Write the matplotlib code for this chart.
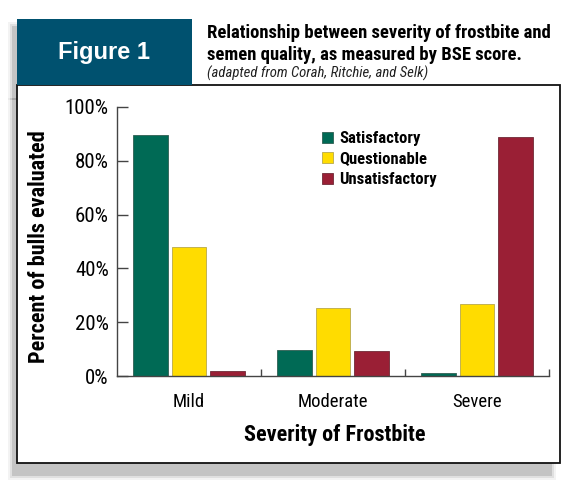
import numpy as np
import matplotlib
matplotlib.use('Agg')
import matplotlib.pyplot as plt
from matplotlib.patches import Rectangle, Patch

# data
categories = ['Mild', 'Moderate', 'Severe']
series = ['Satisfactory', 'Questionable', 'Unsatisfactory']
satisfactory = [89.5, 9.7, 1.1]
questionable = [48.0, 25.4, 26.8]
unsatisfactory = [2.0, 9.2, 88.7]
yticks = [0, 20, 40, 60, 80, 100]
ytick_labels = ['0%', '20%', '40%', '60%', '80%', '100%']

colors = ['#006a55', '#ffdc00', '#9a1f35']
edges = ['#2f5f52', '#b8a84a', '#6f2a36']
teal = '#00516f'

narrow = ['Roboto Condensed', 'DejaVu Sans']
W, H = 575, 483

fig = plt.figure(figsize=(W / 100, H / 100), dpi=100)
fig.patch.set_facecolor('white')


def fx(x):
    return x / W


def fy(y):
    return 1 - y / H


def box(x0, y0, x1, y1, **kw):
    r = Rectangle((fx(x0), fy(y1)), fx(x1) - fx(x0), fy(y0) - fy(y1),
                  transform=fig.transFigure, **kw)
    fig.add_artist(r)


# soft shadow behind the header box and the panel
for grow, a in [(4, 0.10), (2, 0.18), (0, 0.32)]:
    box(12 - grow, 26 - grow, 186 + grow, 100, facecolor='#8a8a8a',
        edgecolor='none', alpha=a, zorder=0)
    box(12 - grow, 98, 552 + grow, 476 + grow, facecolor='#8a8a8a',
        edgecolor='none', alpha=a, zorder=0)

# white frame and teal header box
box(17, 85, 560, 463, facecolor='white', edgecolor='#111111', linewidth=1.3, zorder=1)
box(17, 19, 192, 85, facecolor=teal, edgecolor='none', zorder=2)

fig.text(fx(104), fy(53), 'Figure 1', color='white', fontsize=17, fontweight='bold',
         family=['Liberation Sans', 'DejaVu Sans'], ha='center', va='center', zorder=3)
fig.text(fx(207), fy(38), 'Relationship between severity of frostbite and',
         fontsize=13.4, fontweight='bold', family=narrow, ha='left', va='baseline')
fig.text(fx(207), fy(60), 'semen quality, as measured by BSE score.',
         fontsize=13.4, fontweight='bold', family=narrow, ha='left', va='baseline')
fig.text(fx(207), fy(78), '(adapted from Corah, Ritchie, and Selk)',
         fontsize=10.6, style='italic', family=narrow, ha='left', va='baseline', color='#222222')

# chart area
ax = fig.add_axes([fx(117), fy(376), fx(549) - fx(117), fy(107) - fy(376)])
ax.set_zorder(3)
ax.patch.set_alpha(0)

x = np.arange(len(categories)) + 0.5
width = 0.243
step = 0.267
for i, (vals, name) in enumerate(zip([satisfactory, questionable, unsatisfactory], series)):
    ax.bar(x + (i - 1) * step, vals, width, color=colors[i], edgecolor=edges[i],
           linewidth=0.6, label=name)

ax.set_xlim(0, 3)
ax.set_ylim(0, 100)
ax.set_yticks(yticks)
ax.set_yticklabels(ytick_labels, family=narrow, fontsize=15)
ax.set_xticks(x)
ax.set_xticklabels(categories, family=narrow, fontsize=13.5)
ax.set_xticks([1, 2, 3], minor=True)
ax.tick_params(axis='x', which='major', length=0, pad=12)
ax.tick_params(axis='x', which='minor', direction='in', length=5, width=1, color='#444444')
ax.tick_params(axis='y', direction='in', length=8, width=1, color='#444444', pad=6)

for s in ['top', 'right']:
    ax.spines[s].set_visible(False)
for s in ['left', 'bottom']:
    ax.spines[s].set_color('#444444')
    ax.spines[s].set_linewidth(1)

fig.text(fx(39), fy(247), 'Percent of bulls evaluated', rotation=90, fontsize=16,
         fontweight='bold', family=narrow, ha='center', va='center')
fig.text(fx(335), fy(435), 'Severity of Frostbite', fontsize=16,
         fontweight='bold', family=narrow, ha='center', va='center')

handles = [Patch(facecolor=colors[i], edgecolor=edges[i], linewidth=0.6) for i in range(3)]
leg = ax.legend(handles, series, loc='upper left', bbox_to_anchor=(fx(314), fy(123)),
                bbox_transform=fig.transFigure, frameon=False, borderpad=0,
                handlelength=0.65, handleheight=0.65, handletextpad=0.35,
                labelspacing=0.32, prop={'family': narrow, 'weight': 'bold', 'size': 12})

fig.savefig('out.png', dpi=100)
